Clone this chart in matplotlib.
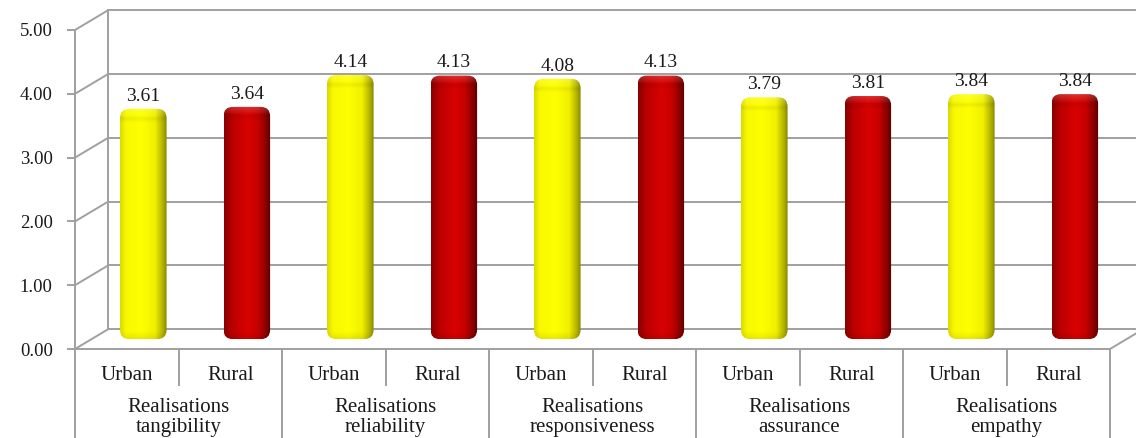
import numpy as np
import matplotlib
matplotlib.use("Agg")
import matplotlib.pyplot as plt
import matplotlib.transforms as mtransforms
from matplotlib.patches import FancyBboxPatch
from matplotlib.colors import LinearSegmentedColormap

# data
groups = ["Realisations\ntangibility", "Realisations\nreliability",
          "Realisations\nresponsiveness", "Realisations\nassurance",
          "Realisations\nempathy"]
areas = ["Urban", "Rural"]
urban = [3.61, 4.14, 4.08, 3.79, 3.84]
rural = [3.64, 4.13, 4.13, 3.81, 3.84]
yticks = [0, 1, 2, 3, 4, 5]

plt.rcParams["font.family"] = ["Liberation Serif", "DejaVu Serif"]
grid_col = "#a0a0a0"
text_col = "#1a1a1a"

W, H = 1136, 438
fig = plt.figure(figsize=(W / 100, H / 100), dpi=100)
ax = fig.add_axes([75 / W, 89 / H, 1035 / W, 319 / H])
n_slots = len(groups) * len(areas)
ax.set_xlim(0, n_slots)
ax.set_ylim(0, 5)
px_per_y = 319 / 5

# 3d depth of the box, in data units
depth_x = 0.32
depth_y = 0.31

# back wall, left wall and floor edges
for v in yticks:
    ax.plot([depth_x, n_slots + 1], [v + depth_y] * 2, color=grid_col,
            lw=1.4, clip_on=False, zorder=1)
    ax.plot([0, depth_x], [v, v + depth_y], color=grid_col, lw=1.4,
            clip_on=False, zorder=1)
ax.plot([depth_x] * 2, [depth_y, 5 + depth_y], color=grid_col, lw=1.4,
        clip_on=False, zorder=1)
ax.plot([n_slots, n_slots + depth_x], [0, depth_y], color=grid_col, lw=1.4,
        clip_on=False, zorder=1)

# cylinder shading
yellow_cm = LinearSegmentedColormap.from_list("y", [
    (0, "#dada00"), (0.12, "#f8f800"), (0.45, "#ffff00"),
    (0.75, "#f0f000"), (0.9, "#b8b800"), (1, "#8a8a00")])
red_cm = LinearSegmentedColormap.from_list("r", [
    (0, "#8a0000"), (0.18, "#bb0000"), (0.5, "#d80202"),
    (0.72, "#c80000"), (0.88, "#900000"), (1, "#5a0000")])

bar_w = 0.45
aspect = (5 / 319) / (n_slots / 1035)


def cylinder_image(cmap, val):
    cols = cmap(np.linspace(0, 1, 120))[:, :3]
    rows = max(int(val * px_per_y), 20)
    r = np.arange(rows)
    # soft bevel near the top, faint shade at the foot
    light = np.interp(r, [0, 3, 8], [0.18, 0.12, 0.0])
    shade = np.interp(r, [0, 7, 10, 14, rows - 8, rows - 1],
                      [1, 1, 0.94, 1, 1, 0.92])
    img = cols[None, :, :] * shade[:, None, None]
    img = img * (1 - light[:, None, None]) + light[:, None, None]
    return np.clip(img, 0, 1)


def draw_bar(xc, val, cmap):
    x0 = xc - bar_w / 2
    y0 = depth_y / 2
    patch = FancyBboxPatch((x0, y0), bar_w, val, boxstyle="round,pad=0,rounding_size=0.09",
                           mutation_aspect=aspect, facecolor="none",
                           edgecolor="none", clip_on=False)
    ax.add_patch(patch)
    im = ax.imshow(cylinder_image(cmap, val), extent=[x0, x0 + bar_w, y0, y0 + val],
                   aspect="auto", interpolation="bilinear", zorder=3)
    im.set_clip_path(patch)
    ax.annotate(f"{val:.2f}", xy=(xc, y0 + val), xytext=(0, 3),
                textcoords="offset points", ha="center", va="bottom",
                fontsize=14, color=text_col, annotation_clip=False)


for g in range(len(groups)):
    draw_bar(2 * g + 0.5 + depth_x / 2, urban[g], yellow_cm)
    draw_bar(2 * g + 1.5 + depth_x / 2, rural[g], red_cm)

ax.set_xlim(0, n_slots)
ax.set_ylim(0, 5)

# axes styling
for s in ["top", "right"]:
    ax.spines[s].set_visible(False)
for s in ["left", "bottom"]:
    ax.spines[s].set_color(grid_col)
    ax.spines[s].set_linewidth(1.4)
ax.set_yticks(yticks)
ax.set_yticklabels([f"{v:.2f}" for v in yticks], fontsize=13.5, color=text_col)
ax.tick_params(axis="y", length=6, width=1.4, color=grid_col, pad=10)
ax.set_xticks([])
ax.set_facecolor("none")

# category table below the axis
trans = mtransforms.blended_transform_factory(ax.transData, fig.transFigure)
y_top = 89 / H
for g in range(len(groups) + 1):
    ax.plot([2 * g] * 2, [y_top, 0], color=grid_col, lw=1.4,
            transform=trans, clip_on=False)
for g in range(len(groups)):
    ax.plot([2 * g + 1] * 2, [y_top, 53 / H], color=grid_col, lw=1.4,
            transform=trans, clip_on=False)
    for k, a in enumerate(areas):
        ax.text(2 * g + k + 0.5, (H - 375) / H, a, transform=trans,
                ha="center", va="center", fontsize=15, color=text_col)
    ax.text(2 * g + 1, (H - 417.5) / H, groups[g], transform=trans,
            ha="center", va="center", fontsize=15, color=text_col,
            linespacing=1.05)

fig.savefig("out.png", dpi=100)
